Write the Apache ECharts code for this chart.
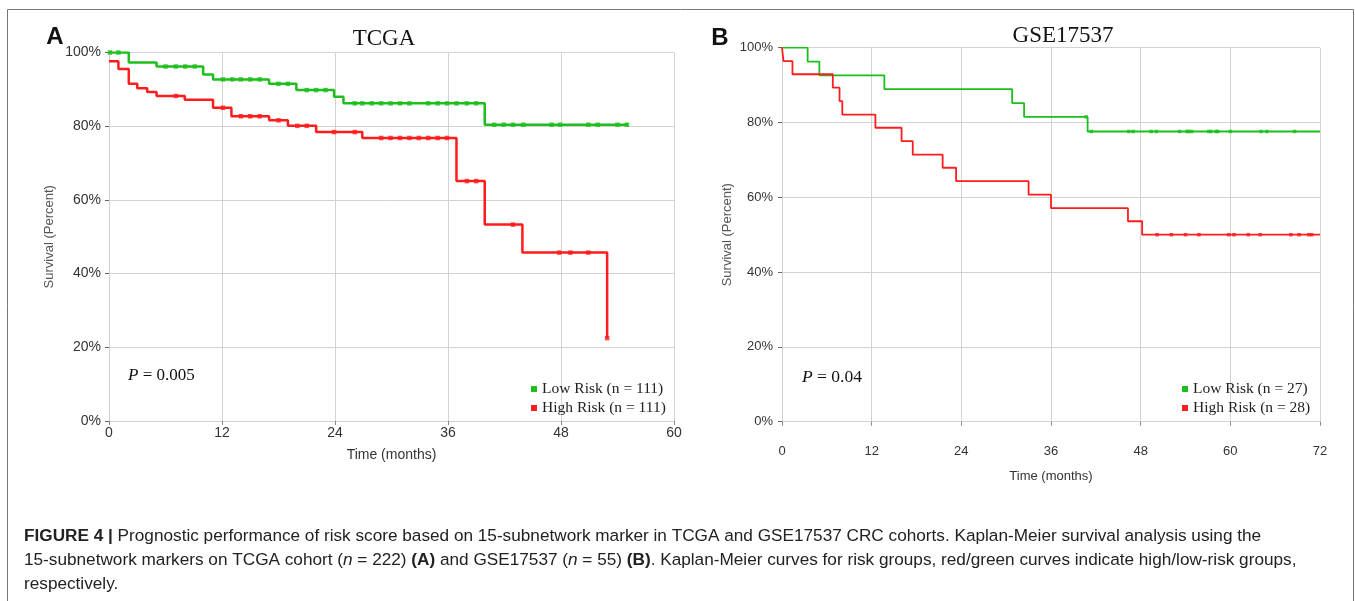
<!DOCTYPE html>
<html><head><meta charset="utf-8">
<script src="https://cdn.jsdelivr.net/npm/echarts@6/dist/echarts.min.js"></script>
<style>html,body{margin:0;padding:0;background:#fff}#chart{width:1355px;height:601px}</style>
</head><body><div id="chart"></div>
<script>
// ---- Panel A: TCGA ----
const tcgaLowTime  = [0, 2.1, 5.05, 10.0, 11.05, 17.0, 19.9, 23.9, 24.9, 39.9, 55.1];
const tcgaLowSurv  = [100, 97.3, 96.2, 94.0, 92.7, 91.5, 89.8, 88.0, 86.2, 80.4, 80.4];
const tcgaHighTime = [0, 1.0, 2.1, 3.0, 4.06, 5.05, 8.05, 11.05, 13.0, 17.0, 19.0, 22.0, 26.9, 36.9, 39.9, 43.9, 52.9];
const tcgaHighSurv = [97.6, 95.5, 91.5, 90.3, 89.3, 88.2, 87.2, 85.0, 82.7, 81.6, 80.1, 78.4, 76.8, 65.1, 53.3, 45.7, 22.5];
const tcgaLowCensor  = [0.1, 1.0, 6.0, 7.1, 8.1, 9.1, 12.1, 13.1, 14.0, 15.0, 16.0, 18.0, 19.0, 21.0, 22.0, 23.0,
  26.1, 26.9, 27.9, 28.9, 29.9, 30.9, 31.9, 33.9, 34.9, 35.9, 36.9, 38.0, 39.0, 40.9, 41.9, 42.9, 44.0, 47.0, 47.9,
  50.9, 51.9, 54.0, 55.0];
const tcgaHighCensor = [7.1, 12.1, 14.0, 15.0, 16.0, 18.0, 20.0, 21.0, 23.9, 26.1, 28.9, 29.9, 30.9, 31.9, 32.9,
  33.9, 34.9, 35.9, 38.0, 39.0, 42.9, 47.8, 49.0, 50.9, 52.9];
// ---- Panel B: GSE17537 ----
const gseLowTime  = [0, 3.43, 5.0, 13.7, 30.8, 32.4, 40.9, 72];
const gseLowSurv  = [100, 96.3, 92.6, 88.9, 85.2, 81.5, 77.6, 77.6];
const gseHighTime = [0, 0.2, 1.4, 6.8, 7.7, 8.07, 12.5, 16.0, 17.5, 21.5, 23.3, 33.0, 36.0, 46.3, 48.2, 72];
const gseHighSurv = [100, 96.4, 92.9, 89.3, 85.7, 82.1, 78.6, 75.0, 71.4, 67.9, 64.3, 60.7, 57.1, 53.6, 50.0, 50.0];
const gseLowCensor  = [40.7, 41.4, 46.4, 47.0, 49.4, 50.1, 53.2, 54.2, 54.4, 54.8, 57.1, 57.4, 58.1, 58.3, 60.0, 64.1, 64.9, 68.6];
const gseHighCensor = [50.2, 52.1, 54.0, 55.8, 59.8, 60.5, 62.4, 64.0, 68.1, 69.2, 70.5, 70.9];
// ---- labels ----
const tcgaNames = ['Low Risk (n = 111)', 'High Risk (n = 111)'];
const gseNames  = ['Low Risk (n = 27)', 'High Risk (n = 28)'];
const pValues = ['0.005', '0.04'];
const xTicksA = {min: 0, max: 60, interval: 12};
const xTicksB = {min: 0, max: 72, interval: 12};

const GREEN = '#1cbf1c', RED = '#ff1c1c';
const SANS = '"Liberation Sans", Arial, sans-serif';
const SERIF = '"Liberation Serif", "Times New Roman", serif';

function zip(t, s) { return t.map((v, i) => [v, s[i]]); }
function levelAt(t, s, x) { let v = s[0]; for (let i = 0; i < t.length; i++) { if (t[i] <= x) v = s[i]; } return v; }
function censorPts(c, t, s) { return c.map(x => [x, levelAt(t, s, x)]); }

function stepSeries(name, t, s, color, idx, w) {
  return {name, type: 'line', step: 'end', xAxisIndex: idx, yAxisIndex: idx, data: zip(t, s),
    showSymbol: false, symbol: 'rect', lineStyle: {color, width: w}, itemStyle: {color}, silent: true, animation: false, z: 3};
}
function censorSeries(c, t, s, color, idx, size) {
  return {name: 'c' + idx + color, type: 'scatter', xAxisIndex: idx, yAxisIndex: idx, data: censorPts(c, t, s),
    symbol: 'rect', symbolSize: size, itemStyle: {color}, silent: true, animation: false, z: 4};
}
function xAxis(idx, ticks, offset, margin, fs, gap) {
  return {type: 'value', gridIndex: idx, min: ticks.min, max: ticks.max, interval: ticks.interval, offset,
    name: 'Time (months)', nameLocation: 'middle', nameGap: gap,
    nameTextStyle: {fontFamily: SANS, fontSize: fs, color: '#333'},
    axisLine: {show: offset === 0, lineStyle: {color: '#cfcfcf'}},
    axisTick: {show: true, length: 4, lineStyle: {color: '#888'}},
    axisLabel: {margin, fontFamily: SANS, fontSize: fs, color: '#333'},
    splitLine: {show: true, lineStyle: {color: '#d3d3d3', width: 1}}};
}
function yAxis(idx, fs, gap, margin) {
  return {type: 'value', gridIndex: idx, min: 0, max: 100, interval: 20,
    name: 'Survival (Percent)', nameLocation: 'middle', nameGap: gap,
    nameTextStyle: {fontFamily: SANS, fontSize: 13, color: '#555'},
    axisLine: {show: true, lineStyle: {color: '#cfcfcf'}},
    axisTick: {show: true, length: 4, lineStyle: {color: '#666'}},
    axisLabel: {margin, fontFamily: SANS, fontSize: fs, color: '#333', formatter: '{value}%'},
    splitLine: {show: true, lineStyle: {color: '#d3d3d3', width: 1}}};
}
function legend(names, left) {
  return {data: names, orient: 'vertical', left, top: 376, icon: 'rect', itemWidth: 6, itemHeight: 6, itemGap: 3,
    selectedMode: false, textStyle: {fontFamily: SERIF, fontSize: 15.5, color: '#222', lineHeight: 16}};
}
function txt(text, x, y, font, align, extra) {
  return Object.assign({type: 'text', silent: true, style: {text, x, y, font, fill: '#111',
    textAlign: align, align, textVerticalAlign: 'middle', verticalAlign: 'middle'}}, extra || {});
}

const chart = echarts.init(document.getElementById('chart'), null, {renderer: 'canvas'});
const CAP = 17.2;
const capRich = {
  b: {fontFamily: SANS, fontSize: CAP, fontWeight: 'bold', fill: '#222', color: '#222'},
  i: {fontFamily: SANS, fontSize: CAP, fontStyle: 'italic', fill: '#222', color: '#222'},
  r: {fontFamily: SANS, fontSize: CAP, fill: '#222', color: '#222'}
};
function capLine(text, y) {
  return {type: 'text', silent: true, style: {text, x: 24, y, rich: capRich, font: CAP + 'px ' + SANS, fill: '#222',
    textAlign: 'left', align: 'left', textVerticalAlign: 'middle', verticalAlign: 'middle'}};
}
const pRich = (fs) => ({i: {fontFamily: SERIF, fontStyle: 'italic', fontSize: fs, fill: '#111'},
  r: {fontFamily: SERIF, fontSize: fs, fill: '#111'}});

chart.setOption({
  animation: false,
  grid: [
    {left: 109, top: 52.5, width: 565, height: 368.5, containLabel: false},
    {left: 782, top: 47.7, width: 538, height: 374, containLabel: false}
  ],
  xAxis: [xAxis(0, xTicksA, 0, 5, 14, 27.5), xAxis(1, xTicksB, 18, 5.5, 13, 30)],
  yAxis: [yAxis(0, 14, 53.5, 8), yAxis(1, 13, 48.5, 9)],
  legend: [legend(tcgaNames, 526), legend(gseNames, 1177)],
  series: [
    stepSeries(tcgaNames[0], tcgaLowTime, tcgaLowSurv, GREEN, 0, 2.5),
    stepSeries(tcgaNames[1], tcgaHighTime, tcgaHighSurv, RED, 0, 2.5),
    censorSeries(tcgaLowCensor, tcgaLowTime, tcgaLowSurv, GREEN, 0, 4.5),
    censorSeries(tcgaHighCensor, tcgaHighTime, tcgaHighSurv, RED, 0, 4.5),
    stepSeries(gseNames[0], gseLowTime, gseLowSurv, GREEN, 1, 1.8),
    stepSeries(gseNames[1], gseHighTime, gseHighSurv, RED, 1, 1.8),
    censorSeries(gseLowCensor, gseLowTime, gseLowSurv, GREEN, 1, 3.5),
    censorSeries(gseHighCensor, gseHighTime, gseHighSurv, RED, 1, 3.5)
  ],
  graphic: [
    {type: 'rect', silent: true, shape: {x: 7.5, y: 9.5, width: 1346, height: 640}, style: {fill: 'none', stroke: '#777', lineWidth: 1}, z: -10},
    txt('A', 55, 37, 'bold 24px ' + SANS, 'center'),
    txt('B', 720, 38, 'bold 24px ' + SANS, 'center'),
    txt('TCGA', 384, 39, '23px ' + SERIF, 'center'),
    txt('GSE17537', 1063, 36, '23px ' + SERIF, 'center'),
    {type: 'text', silent: true, style: {text: '{i|P}{r| = ' + pValues[0] + '}', x: 128, y: 376, rich: pRich(17),
      textAlign: 'left', align: 'left', textVerticalAlign: 'middle', verticalAlign: 'middle'}},
    {type: 'text', silent: true, style: {text: '{i|P}{r| = ' + pValues[1] + '}', x: 802, y: 377, rich: pRich(17.5),
      textAlign: 'left', align: 'left', textVerticalAlign: 'middle', verticalAlign: 'middle'}},
    capLine('{b|FIGURE 4 |}{r| Prognostic performance of risk score based on 15-subnetwork marker in TCGA and GSE17537 CRC cohorts. Kaplan-Meier survival analysis using the}', 536),
    capLine('{r|15-subnetwork markers on TCGA cohort (}{i|n}{r| = 222) }{b|(A)}{r| and GSE17537 (}{i|n}{r| = 55) }{b|(B)}{r|. Kaplan-Meier curves for risk groups, red/green curves indicate high/low-risk groups,}', 560),
    capLine('{r|respectively.}', 584)
  ]
});
</script></body></html>
